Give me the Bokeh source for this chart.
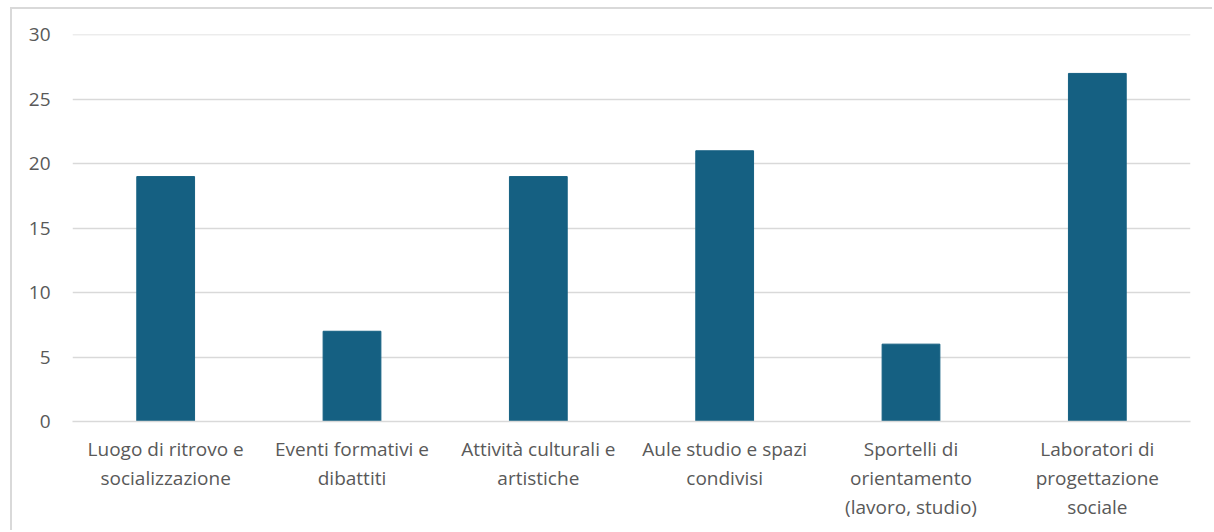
from bokeh.plotting import figure
from bokeh.models import FixedTicker, Range1d
from bokeh.embed import file_html
from bokeh.resources import INLINE

categories = [
    "Luogo di ritrovo e\nsocializzazione",
    "Eventi formativi e\ndibattiti",
    "Attività culturali e\nartistiche",
    "Aule studio e spazi\ncondivisi",
    "Sportelli di\norientamento\n(lavoro, studio)",
    "Laboratori di\nprogettazione\nsociale",
]
values = [19, 7, 19, 21, 6, 27]
y_ticks = [0, 5, 10, 15, 20, 25, 30]

FONT = "Open Sans"
TXT = "#595959"
GRID = "#d9d9d9"

p = figure(x_range=categories, y_range=Range1d(0, 30.02), width=1202, height=523,
           output_backend="svg", toolbar_location=None,
           min_border_left=60, min_border_right=24, min_border_top=25, min_border_bottom=111)
p.margin = (7, 0, 0, 10)
p.styles = {"border-left": "2px solid #d9d9d9", "border-top": "2px solid #d9d9d9"}
p.vbar(x=categories, top=values, width=0.31, color="#156082")

p.outline_line_color = None
p.xgrid.grid_line_color = None
p.ygrid.grid_line_color = GRID
p.ygrid.grid_line_width = 1.5
p.yaxis.ticker = FixedTicker(ticks=y_ticks)
p.yaxis.axis_line_color = None
p.yaxis.major_tick_line_color = None
p.yaxis.minor_tick_line_color = None
p.yaxis.major_label_standoff = 16
p.yaxis.major_label_text_font = FONT
p.yaxis.major_label_text_font_size = "19px"
p.yaxis.major_label_text_color = TXT

p.xaxis.axis_line_color = GRID
p.xaxis.axis_line_width = 1.5
p.xaxis.major_tick_line_color = None
p.xaxis.minor_tick_line_color = None
p.xaxis.major_label_standoff = 8
p.xaxis.major_label_text_font = FONT
p.xaxis.major_label_text_font_size = "19px"
p.xaxis.major_label_text_color = TXT
p.xaxis.major_label_text_line_height = 1.12

open("out.html", "w").write(file_html(p, INLINE))
